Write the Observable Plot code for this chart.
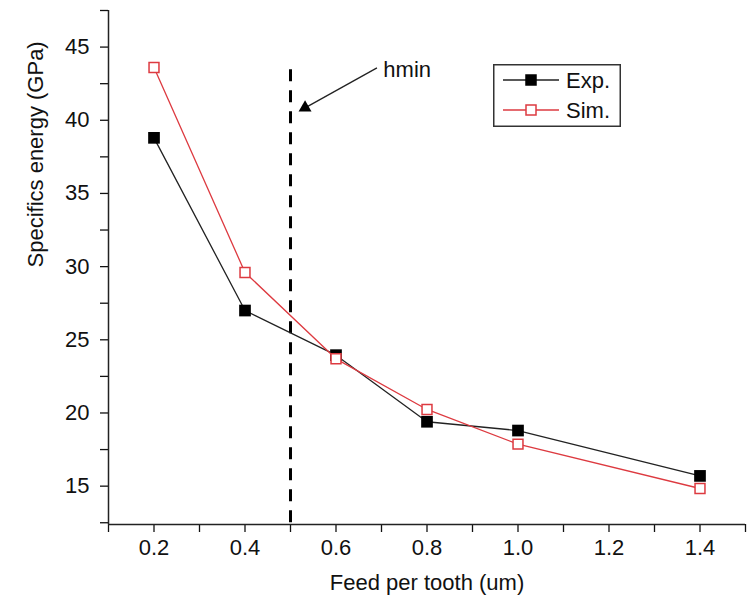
<!DOCTYPE html>
<html>
<head>
<meta charset="utf-8">
<script src="https://cdn.jsdelivr.net/npm/d3@7"></script>
<script src="https://cdn.jsdelivr.net/npm/@observablehq/plot@0.6"></script>
<style>
  html, body { margin: 0; padding: 0; background: white; }
  #wrap { position: relative; width: 748px; height: 597px; }
  #legend { position: absolute; left: 493px; top: 64px; }
</style>
</head>
<body>
<div id="wrap"><div id="chart"></div><div id="legend"></div></div>
<script>
// ---- data ----
const feed = [0.2, 0.4, 0.6, 0.8, 1.0, 1.4];
const expEnergy = [38.8, 27.0, 23.95, 19.4, 18.8, 15.7];
const simEnergy = [43.6, 29.6, 23.7, 20.24, 17.87, 14.84];
const seriesNames = ["Exp.", "Sim."];
const xTicks = [0.2, 0.4, 0.6, 0.8, 1.0, 1.2, 1.4];
const xMinor = [0.1, 0.3, 0.5, 0.7, 0.9, 1.1, 1.3, 1.5];
const yTicks = [15, 20, 25, 30, 35, 40, 45];
const yMinor = [12.5, 17.5, 22.5, 27.5, 32.5, 37.5, 42.5, 47.5];
const xDomain = [0.1, 1.5];
const yDomain = [12.38, 47.5];
const hminX = [0.5];
const hminTop = [43.45];
const hminLabel = ["hmin"];
const hminLabelPos = [0.704, 43.45];
const arrowFrom = [0.69, 43.58];
const arrowTo = [0.532, 40.85];
const xTitle = "Feed per tooth (um)";
const yTitle = "Specifics energy (GPa)";

const expData = feed.map((f, i) => ({x: f, y: expEnergy[i]}));
const simData = feed.map((f, i) => ({x: f, y: simEnergy[i]}));
const RED = "#dd3a40";
const FONT = "'Liberation Sans', Arial, Helvetica, sans-serif";
const FS = 22;

const chart = Plot.plot({
  width: 748, height: 597,
  marginLeft: 108, marginRight: 3, marginTop: 10, marginBottom: 73,
  x: {domain: xDomain},
  y: {domain: yDomain},
  style: {fontFamily: FONT, fontSize: FS + "px", color: "#111", background: "white", overflow: "visible"},
  marks: [
    Plot.axisX(xTicks, {tickSize: 8, tickPadding: 7, tickFormat: d => d.toFixed(1), label: null, strokeWidth: 1.3, fontSize: FS}),
    Plot.axisX(xMinor, {tickSize: 8, tickFormat: () => "", label: null, strokeWidth: 1.3}),
    Plot.axisY(yTicks, {tickSize: 8, tickPadding: 11, label: null, strokeWidth: 1.3, fontSize: FS}),
    Plot.axisY(yMinor, {tickSize: 8, tickFormat: () => "", label: null, strokeWidth: 1.3}),
    Plot.ruleY([yDomain[0]], {stroke: "#222", strokeWidth: 1.5}),
    Plot.ruleX([xDomain[0]], {stroke: "#222", strokeWidth: 1.5}),
    // hmin dashed line
    Plot.ruleX(hminX, {y1: hminTop[0], y2: yDomain[0], stroke: "black", strokeWidth: 3, strokeDasharray: "12,9"}),
    // arrow to hmin
    Plot.link([0], {x1: arrowFrom[0], y1: arrowFrom[1], x2: arrowTo[0], y2: arrowTo[1], stroke: "#222", strokeWidth: 1.3}),
    Plot.dot([0], {x: arrowTo[0], y: arrowTo[1], symbol: "triangle", r: 4.8, fill: "black", stroke: "none"}),
    Plot.text(hminLabel, {x: hminLabelPos[0], y: hminLabelPos[1], text: d => d, textAnchor: "start", fontSize: FS, fill: "#111"}),
    // Exp series
    Plot.line(expData, {x: "x", y: "y", stroke: "#222", strokeWidth: 1.3}),
    Plot.dot(expData, {x: "x", y: "y", symbol: "square", r: 6.6, fill: "black", stroke: "none"}),
    // Sim series
    Plot.line(simData, {x: "x", y: "y", stroke: RED, strokeWidth: 1.3}),
    Plot.dot(simData, {x: "x", y: "y", symbol: "square", r: 5.6, fill: "white", stroke: RED, strokeWidth: 1.5}),
    // axis titles
    Plot.text([xTitle], {frameAnchor: "bottom", dy: 58, text: d => d, fontSize: FS, lineAnchor: "middle", fill: "#111"}),
    Plot.text([yTitle], {frameAnchor: "left", dx: -73, rotate: -90, text: d => d, fontSize: FS, lineAnchor: "middle", fill: "#111"})
  ]
});
document.getElementById("chart").append(chart);

// ---- legend ----
const lw = 128, lh = 63;
const leg = d3.select("#legend").append("svg").attr("width", lw).attr("height", lh)
  .style("font-family", FONT).style("overflow", "visible");
leg.append("rect").attr("x", 0.75).attr("y", 0.75).attr("width", lw - 1.5).attr("height", lh - 1.5)
  .attr("fill", "white").attr("stroke", "#333").attr("stroke-width", 1.5);
const entries = [
  {name: seriesNames[0], stroke: "#222", fill: "black", mstroke: "none", size: 11.5},
  {name: seriesNames[1], stroke: RED, fill: "white", mstroke: RED, size: 10}
];
entries.forEach((e, i) => {
  const cy = 16 + i * 30;
  leg.append("line").attr("x1", 10).attr("x2", 66).attr("y1", cy).attr("y2", cy)
    .attr("stroke", e.stroke).attr("stroke-width", 1.3);
  leg.append("rect").attr("x", 38 - e.size / 2).attr("y", cy - e.size / 2)
    .attr("width", e.size).attr("height", e.size)
    .attr("fill", e.fill).attr("stroke", e.mstroke).attr("stroke-width", 1.5);
  leg.append("text").attr("x", 73).attr("y", cy).attr("dy", "0.35em")
    .attr("font-size", FS).attr("fill", "#111").text(e.name);
});
</script>
</body>
</html>
